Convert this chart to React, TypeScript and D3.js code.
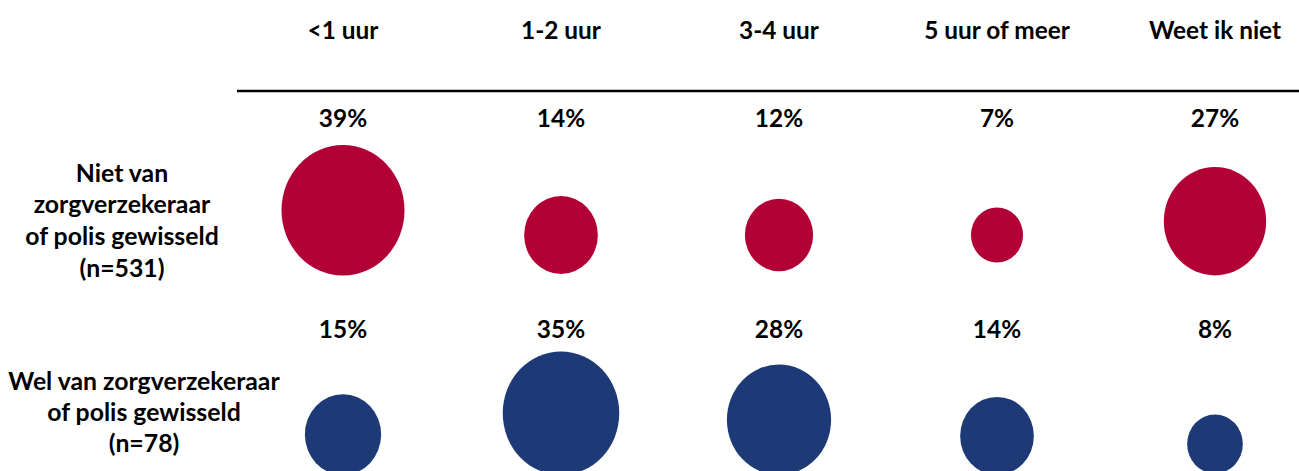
import React from "react";
import * as d3 from "d3";

const categories = ["<1 uur", "1-2 uur", "3-4 uur", "5 uur of meer", "Weet ik niet"];
const groupLabels = [
  ["Niet van", "zorgverzekeraar", "of polis gewisseld", "(n=531)"],
  ["Wel van zorgverzekeraar", "of polis gewisseld", "(n=78)"],
];
const nietGewisseld = [39, 14, 12, 7, 27];
const welGewisseld = [15, 35, 28, 14, 8];
const groupColors = ["#B20037", "#1E3A76"];

const W = 1299;
const H = 471;
const FONT = "Lato, 'Open Sans', sans-serif";
const FS = 24.4;

export default function App() {
  const x = d3.scalePoint<string>().domain(categories).range([343, 1215]);
  const r = d3.scaleSqrt().domain([0, 39]).range([0, 61.5]);
  const rows = [
    { values: nietGewisseld, labelY: 126.5, cy: 235, bottom: 275.5, textX: 122, textY: 181.5, lh: 31.7 },
    { values: welGewisseld, labelY: 338.3, cy: 444, bottom: 475, textX: 144, textY: 389.5, lh: 31 },
  ];
  return (
    <svg width={W} height={H} style={{ position: "absolute", left: 0, top: 0 }} fontFamily={FONT}>
      {categories.map((c) => (
        <text key={c} x={x(c)} y={38.5} textAnchor="middle" fontWeight={700} fontSize={FS} fill="#000">
          {c}
        </text>
      ))}
      <line x1={237} x2={W} y1={91} y2={91} stroke="#000" strokeWidth={2.6} />
      {rows.map((row, ri) => (
        <g key={ri}>
          {groupLabels[ri].map((t, li) => (
            <text key={li} x={row.textX} y={row.textY + li * row.lh} textAnchor="middle" fontWeight={700} fontSize={FS + 0.4} fill="#000">
              {t}
            </text>
          ))}
          {row.values.map((v, i) => {
            const rx = r(v);
            const ry = rx * 1.06;
            const cy = Math.min(row.cy, row.bottom - ry);
            const cx = x(categories[i]) as number;
            return (
              <g key={i}>
                <text x={cx} y={row.labelY} textAnchor="middle" fontWeight={700} fontSize={FS} fill="#000">
                  {v}%
                </text>
                <ellipse cx={cx} cy={cy} rx={rx} ry={ry} fill={groupColors[ri]} />
              </g>
            );
          })}
        </g>
      ))}
    </svg>
  );
}
